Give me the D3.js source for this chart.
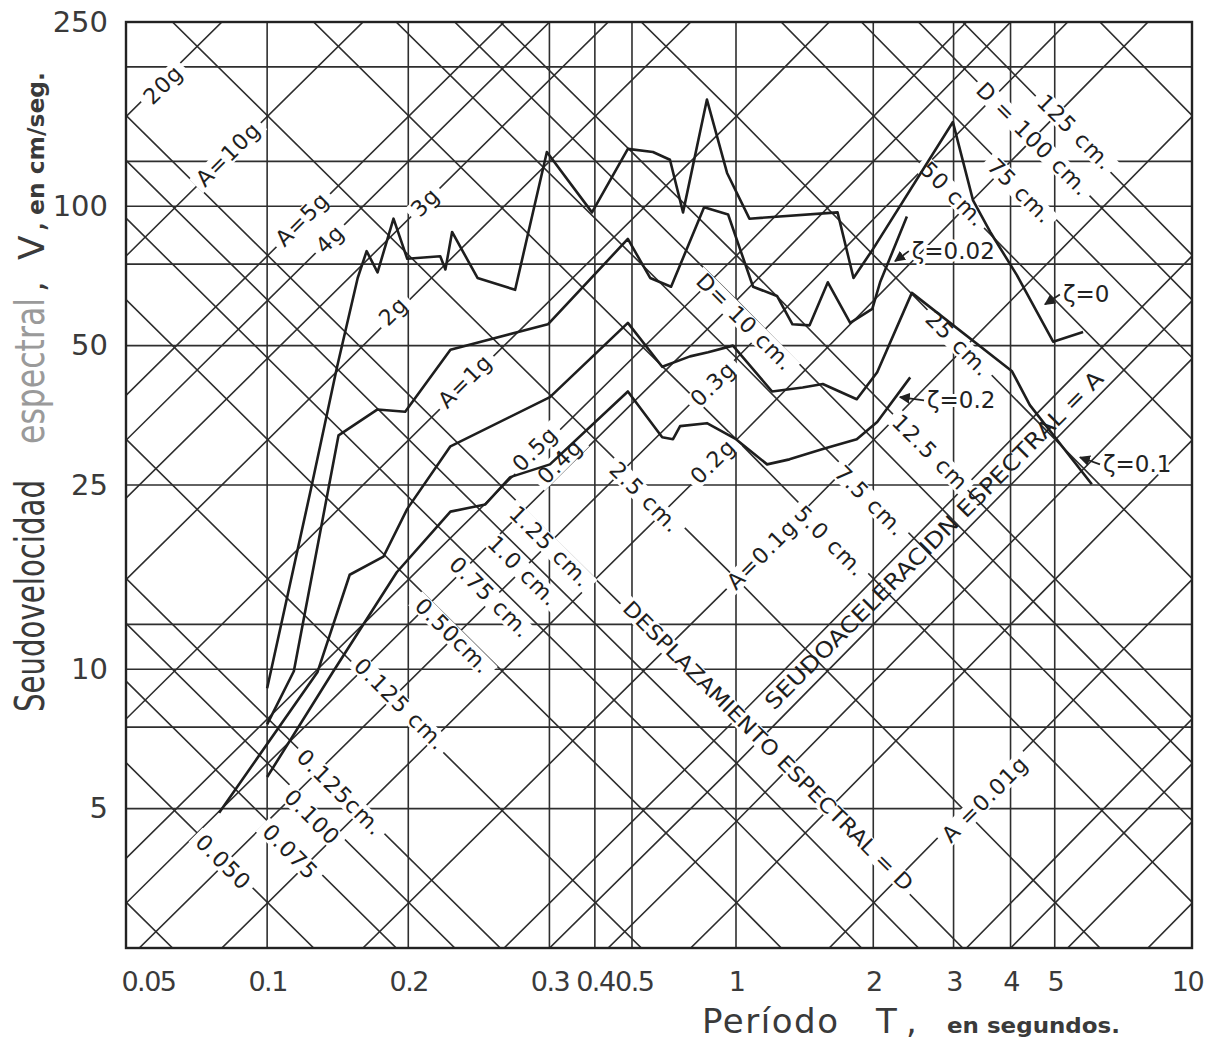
<!DOCTYPE html>
<html>
<head>
<meta charset="utf-8">
<script src="https://cdn.jsdelivr.net/npm/d3@7"></script>
<style>
body { margin: 0; background: #fff; }
svg { display: block; }
text { font-family: "DejaVu Sans", sans-serif; }
.halo { paint-order: stroke; stroke: #fff; stroke-width: 6px; stroke-linejoin: round; }
</style>
</head>
<body>
<svg id="chart" width="1213" height="1044"></svg>
<script>
// ---- data ----
const G = 981;               // cm/s2
const TWO_PI = 2 * Math.PI;

// x axis: tick label positions (period, s) and the text printed under them
const xTickPos    = [0.0557, 0.1, 0.2, 0.4, 0.5, 0.605, 1, 2, 3, 4, 5, 9.75];
const xTickLabels = ["0.05", "0.1", "0.2", "0.3", "0.4", "0.5", "1", "2", "3", "4", "5", "10"];
const yTicks = [250, 100, 50, 25, 10, 5];

// straight grid lines
const vGrid = [0.1, 0.2, 0.4, 0.5, 0.6, 1, 2, 3, 4, 5];
const hGrid = [200, 125, 100, 75, 50, 25, 12.5, 10, 7.5, 5];

// diagonal lines: spectral acceleration (g) and spectral displacement (cm)
const accelLines = [20, 10, 5, 4, 3, 2, 1, 0.5, 0.4, 0.3, 0.2, 0.1, 0.05, 0.04, 0.03, 0.02, 0.01, 0.005, 0.004, 0.003, 0.002];
const dispLines = [0.025, 0.05, 0.075, 0.1, 0.125, 0.25, 0.5, 0.75, 1, 1.25, 2.5, 5, 7.5, 10, 12.5, 25, 50, 75, 100, 125, 250];

// spectra: period T (s) and pseudo velocity V (cm/s)
const tZ0 = [0.1, 0.124, 0.141, 0.156, 0.163, 0.172, 0.186, 0.199, 0.234, 0.240, 0.248, 0.281, 0.338, 0.395, 0.493, 0.588, 0.665, 0.723, 0.771, 0.867, 0.957, 1.07, 1.67, 1.81, 2.0, 2.99, 3.31, 3.61, 4.13, 4.96, 5.77];
const vZ0 = [9.1, 24.5, 45, 70, 80, 72, 94, 77, 78, 73, 88, 70, 66, 131, 97, 133, 131, 126, 97, 170, 118, 94, 97, 70, 81, 152, 103, 88, 71, 51, 53.5];

const tZ002 = [0.1, 0.114, 0.142, 0.172, 0.197, 0.246, 0.397, 0.588, 0.656, 0.727, 0.855, 0.962, 1.09, 1.23, 1.33, 1.45, 1.59, 1.78, 1.99, 2.07, 2.37];
const vZ002 = [7.6, 9.9, 32, 36.4, 36, 49, 55.6, 85, 70, 67, 99.5, 96, 67, 64, 55.6, 55.3, 68.5, 56, 60, 68.5, 95];

const tZ01 = [0.079, 0.128, 0.150, 0.177, 0.199, 0.246, 0.401, 0.588, 0.696, 0.798, 0.872, 0.985, 1.2, 1.4, 1.55, 1.84, 2.04, 2.43, 4.03, 4.41, 6.03];
const vZ01 = [4.9, 9.85, 16, 17.5, 22.2, 30.3, 38.7, 56, 45, 47.4, 48.4, 50, 39.8, 40.6, 41.3, 38.3, 43.8, 65, 44, 37.2, 25.1];

const tZ02 = [0.1, 0.138, 0.189, 0.246, 0.292, 0.330, 0.401, 0.588, 0.696, 0.734, 0.76, 0.867, 1.0, 1.17, 1.31, 1.55, 1.84, 2.04, 2.41];
const vZ02 = [5.85, 9.85, 16.2, 21.9, 22.7, 26, 27.7, 39.8, 31.7, 31.4, 33.5, 34, 31.4, 27.7, 28.4, 29.9, 31.4, 34.2, 42.7];

// labels on the diagonals: text, T, V
const accelLabels = [
  ["20g", 0.060, 183], ["A=10g", 0.0826, 129.5], ["A=5g", 0.1188, 93.7], ["4g", 0.1362, 84.9],
  ["3g", 0.2173, 102], ["2g", 0.1857, 59.3], ["A=1g", 0.2644, 41.9], ["0.5g", 0.3727, 29.9],
  ["0.4g", 0.4213, 28.1], ["0.3g", 0.893, 41.3], ["0.2g", 0.893, 28.1], ["A=0.1g", 1.14, 17.7],
  ["A =0.01g", 3.516, 5.24]
];
const dispLabels = [
  ["0.050", 0.0806, 3.83], ["0.075", 0.112, 4.03], ["0.100", 0.1247, 4.79], ["0.125cm.", 0.143, 5.42],
  ["0.125 cm.", 0.192, 8.4], ["0.50cm.", 0.249, 11.8], ["0.75 cm.", 0.2988, 14.3], ["1.0 cm.", 0.3514, 16.3],
  ["1.25 cm.", 0.4012, 18.4], ["2.5 cm.", 0.6397, 23.5], ["5.0 cm.", 1.607, 18.9], ["7.5 cm.", 1.967, 23.1],
  ["D= 10 cm.", 1.046, 56.2], ["12.5 cm", 2.664, 29.4], ["25 cm.", 3.068, 50.4], ["50 cm.", 2.99, 106.1],
  ["75 cm.", 4.196, 107.8], ["D = 100 cm.", 4.48, 139.5], ["125 cm.", 5.54, 144.5]
];
// damping labels: text, text T, text V, arrow tip T, arrow tip V
const dampLabels = [
  ["ζ=0.02", 2.43, 80, 2.232, 76.1],
  ["ζ=0", 5.21, 64.5, 4.76, 61.4],
  ["ζ=0.2", 2.624, 38.1, 2.288, 38.7],
  ["ζ=0.1", 6.38, 27.7, 5.68, 28.7]
];

// ---- drawing ----
const svg = d3.select("#chart");
svg.append("rect").attr("width", 1213).attr("height", 1044).attr("fill", "#fff");

const x = d3.scaleLog().domain([0.05, 1, 10]).range([126, 736, 1192]);
const y = d3.scaleLog().domain([2.5, 250]).range([948, 22]);

const [x0, , x1] = x.range();
const [yb, yt] = y.range();

const defs = svg.append("defs");
defs.append("clipPath").attr("id", "plot")
  .append("rect").attr("x", x0).attr("y", yt).attr("width", x1 - x0).attr("height", yb - yt);
defs.append("marker")
  .attr("id", "arrow").attr("viewBox", "0 0 10 10").attr("refX", 9).attr("refY", 5)
  .attr("markerWidth", 11).attr("markerHeight", 11).attr("markerUnits", "userSpaceOnUse")
  .attr("orient", "auto")
  .append("path").attr("d", "M0,0L10,5L0,10Z").attr("fill", "#222");

const grid = svg.append("g").attr("clip-path", "url(#plot)")
  .attr("stroke", "#2e2e2e").attr("stroke-width", 1.6).attr("fill", "none");

grid.selectAll(".vg").data(vGrid).join("line")
  .attr("x1", d => x(d)).attr("x2", d => x(d)).attr("y1", yt).attr("y2", yb);
grid.selectAll(".hg").data(hGrid).join("line")
  .attr("x1", x0).attr("x2", x1).attr("y1", d => y(d)).attr("y2", d => y(d));

const tSamples = x.domain();
const line = d3.line().x(d => x(d[0])).y(d => y(d[1]));
grid.selectAll(".acc").data(accelLines).join("path")
  .attr("d", a => line(tSamples.map(t => [t, a * G * t / TWO_PI])));
grid.selectAll(".dis").data(dispLines).join("path")
  .attr("d", dd => line(tSamples.map(t => [t, TWO_PI * dd / t])));

// labels sit in a gap cut out of the line they name
const lab = svg.append("g").attr("fill", "#1e1e1e");
function gapLabel(txt, t, v, angle, size, len, noGap) {
  const g = lab.append("g").attr("transform", `translate(${x(t)},${y(v)}) rotate(${angle})`);
  const bg = g.append("rect").attr("fill", "#fff");
  const el = g.append("text").attr("text-anchor", "middle").attr("dominant-baseline", "central")
    .attr("font-size", size).attr("letter-spacing", len ? null : 1).text(txt);
  if (len) el.attr("textLength", len).attr("lengthAdjust", "spacingAndGlyphs");
  if (noGap) { bg.remove(); return; }
  const w = len || el.node().getComputedTextLength();
  bg.attr("x", -w / 2 - 5).attr("y", -size * 0.45).attr("width", w + 10).attr("height", size * 0.9);
}
accelLabels.forEach(d => gapLabel(d[0], d[1], d[2], -45, 22));
dispLabels.forEach(d => gapLabel(d[0], d[1], d[2], 45, 22));
gapLabel("DESPLAZAMIENTO ESPECTRAL = D", 1.175, 6.82, 45, 21, 400);
gapLabel("SEUDOACELERACIDN ESPECTRAL = A", 2.72, 19.0, -45, 22, 468, true);

// spectra
const series = [
  { t: tZ0, v: vZ0 }, { t: tZ002, v: vZ002 }, { t: tZ01, v: vZ01 }, { t: tZ02, v: vZ02 }
];
svg.append("g").attr("fill", "none").attr("stroke", "#1e1e1e").attr("stroke-width", 2.6)
  .attr("stroke-linejoin", "round")
  .selectAll("path").data(series).join("path")
  .attr("d", s => line(s.t.map((t, i) => [t, s.v[i]])));

// damping labels with arrows
const damp = svg.append("g");
damp.selectAll("line").data(dampLabels).join("line")
  .attr("x1", d => x(d[1]) - 3).attr("y1", d => y(d[2]))
  .attr("x2", d => x(d[3])).attr("y2", d => y(d[4]))
  .attr("stroke", "#222").attr("stroke-width", 1.8).attr("marker-end", "url(#arrow)");
damp.selectAll("text").data(dampLabels).join("text")
  .attr("class", "halo")
  .attr("x", d => x(d[1])).attr("y", d => y(d[2]))
  .attr("dominant-baseline", "central").attr("font-size", 23).attr("fill", "#222")
  .text(d => d[0]);

// frame
svg.append("rect").attr("x", x0).attr("y", yt).attr("width", x1 - x0).attr("height", yb - yt)
  .attr("fill", "none").attr("stroke", "#222").attr("stroke-width", 2.4);

// axes
const xAxis = d3.axisBottom(x).tickValues(xTickPos)
  .tickFormat((d, i) => xTickLabels[i]).tickSize(0).tickPadding(24);
svg.append("g").attr("transform", `translate(0,${yb})`).call(xAxis)
  .attr("font-size", 27).attr("font-family", "DejaVu Sans")
  .call(g => g.select(".domain").remove())
  .call(g => g.selectAll("text").attr("fill", "#3a3a3a").attr("letter-spacing", -1.5));

const yAxis = d3.axisLeft(y).tickValues(yTicks).tickFormat(d3.format("d")).tickSize(0).tickPadding(18);
svg.append("g").attr("transform", `translate(${x0},0)`).call(yAxis)
  .attr("font-size", 29).attr("font-family", "DejaVu Sans")
  .call(g => g.select(".domain").remove())
  .call(g => g.selectAll("text").attr("fill", "#3a3a3a"));

// axis titles
const yt1 = svg.append("text").attr("transform", "translate(44,712) rotate(-90)").attr("fill", "#3a3a3a");
yt1.append("tspan").attr("x", 0).attr("font-size", 40)
  .attr("textLength", 232).attr("lengthAdjust", "spacingAndGlyphs").text("Seudovelocidad");
yt1.append("tspan").attr("x", 268).attr("font-size", 40).attr("fill", "#9a9a9a")
  .attr("textLength", 146).attr("lengthAdjust", "spacingAndGlyphs").text("espectral");
yt1.append("tspan").attr("x", 420).attr("font-size", 34).text(",");
yt1.append("tspan").attr("x", 452).attr("font-size", 36).text("V");
yt1.append("tspan").attr("x", 480).attr("font-size", 34).text(",");
yt1.append("tspan").attr("x", 497).attr("font-size", 23).attr("font-weight", "bold")
  .attr("textLength", 143).attr("lengthAdjust", "spacingAndGlyphs").text("en cm/seg.");

const xt = svg.append("text").attr("y", 1033).attr("fill", "#3a3a3a");
xt.append("tspan").attr("x", 702).attr("font-size", 34)
  .attr("textLength", 136).attr("lengthAdjust", "spacing").text("Período");
xt.append("tspan").attr("x", 876).attr("font-size", 34).text("T");
xt.append("tspan").attr("x", 906).attr("font-size", 34).text(",");
xt.append("tspan").attr("x", 947).attr("font-size", 22).attr("font-weight", "bold")
  .attr("textLength", 173).attr("lengthAdjust", "spacingAndGlyphs").text("en segundos.");
</script>
</body>
</html>
